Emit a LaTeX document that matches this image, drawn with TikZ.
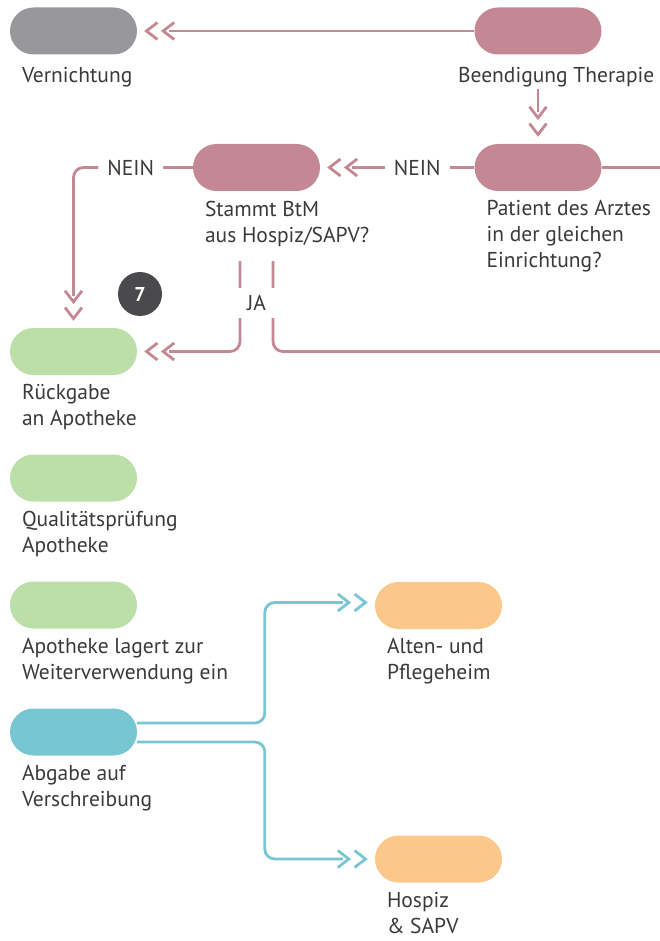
\documentclass[tikz,border=0pt]{standalone}
\usepackage{fontspec}
\setmainfont{PT Sans}
\usetikzlibrary{arrows.meta,decorations.markings}
\definecolor{rose}{HTML}{C48794}
\definecolor{ash}{HTML}{98989C}
\definecolor{mint}{HTML}{BCDEA9}
\definecolor{aqua}{HTML}{79C6D3}
\definecolor{apricot}{HTML}{FBC78B}
\definecolor{slate}{HTML}{4A4A4C}
\definecolor{ink}{HTML}{3A3A3A}

\begin{document}
\begin{tikzpicture}[
  x=1pt, y=-1pt,
  every node/.style = {font=\fontsize{21.5}{26}\selectfont, text=ink},
  Pill/.style = {rectangle, rounded corners=23.5pt, minimum width=127pt, minimum height=47pt, inner sep=0pt},
  Caption/.style = {align=left, inner sep=0pt, anchor=north west, execute at begin node=\strut}
  ]
  \useasboundingbox (0,0) rectangle (660,941);

  \node[Pill, fill=ash] (vern) at (73.5,31) {};
  \node[Pill, fill=rose] (ende) at (538,31) {};
  \node[Pill, fill=rose] (arzt) at (538,167.5) {};
  \node[Pill, fill=rose] (btm) at (256.5,167.5) {};
  \node[Pill, fill=mint] (rueck) at (73.5,351.5) {};
  \node[Pill, fill=mint] (qual) at (73.5,478) {};
  \node[Pill, fill=mint] (lager) at (73.5,605) {};
  \node[Pill, fill=aqua] (abgabe) at (73.5,732) {};
  \node[Pill, fill=apricot] (heim) at (438.5,605.5) {};
  \node[Pill, fill=apricot] (hospiz) at (438.5,859) {};

  \node[Caption] (vernT) at ([xshift=12pt,yshift=-9.3pt]vern.south west) {Vernichtung};
  \node[Caption] (endeT) at ([xshift=-16.5pt,yshift=-9.3pt]ende.south west) {Beendigung Therapie};
  \node[Caption] (arztT) at ([xshift=12pt,yshift=-9.3pt]arzt.south west) {Patient des Arztes\\in der gleichen\\Einrichtung?};
  \node[Caption] (btmT) at ([xshift=12pt,yshift=-9.3pt]btm.south west) {Stammt BtM\\aus Hospiz/SAPV?};
  \node[Caption] (rueckT) at ([xshift=12pt,yshift=-9.3pt]rueck.south west) {Rückgabe\\an Apotheke};
  \node[Caption] (qualT) at ([xshift=12pt,yshift=-9.3pt]qual.south west) {Qualitätsprüfung\\Apotheke};
  \node[Caption] (lagerT) at ([xshift=12pt,yshift=-9.3pt]lager.south west) {Apotheke lagert zur\\Weiterverwendung ein};
  \node[Caption] (abgabeT) at ([xshift=12pt,yshift=-9.3pt]abgabe.south west) {Abgabe auf\\Verschreibung};
  \node[Caption] (heimT) at ([xshift=12pt,yshift=-9.3pt]heim.south west) {Alten- und\\Pflegeheim};
  \node[Caption] (hospizT) at ([xshift=12pt,yshift=-9.3pt]hospiz.south west) {Hospiz\\\& SAPV};

  \node[circle, fill=slate, minimum size=44pt, inner sep=0pt, text=white, font=\fontsize{20}{22}\selectfont\bfseries] (seven) at (140,294) {7};

  \tikzset{EdgePink/.style = {draw=rose, line width=2.8pt}}
  \tikzset{EdgeTeal/.style = {draw=aqua, line width=2.8pt}}
  \tikzset{Chevrons/.style = {shorten >=32pt, decoration={markings, mark=at position -7pt with
    {\arrow{Straight Barb[length=11pt,width=17pt,sep=2pt]Straight Barb[length=11pt,width=17pt]}}}, postaction={decorate}}}
  \tikzset{LabelStyle/.style = {fill=white, inner xsep=9pt, inner ysep=4pt}}

  \coordinate (arztR) at (660,167.5);
  \coordinate (jaL) at ([xshift=-16.5pt,yshift=-70pt]btm.south);
  \coordinate (jaR) at ([xshift=16.5pt,yshift=-70pt]btm.south);
  \coordinate (jaEnd) at (660,351.5);

  \draw[EdgePink, Chevrons] (ende.west) -- (vern.east);
  \draw[EdgePink, Chevrons] ([yshift=-34.5pt]ende.south) -- (arzt.north);
  \draw[EdgePink] (arzt.east) -- (arztR);
  \draw[EdgePink, Chevrons] (arzt.west) -- node[LabelStyle, pos=.37] {NEIN} (btm.east);
  \draw[EdgePink, Chevrons, rounded corners=10pt] (btm.west) -| node[LabelStyle, pos=.26] {NEIN} (rueck.north);
  \draw[EdgePink, Chevrons, rounded corners=10pt] (jaL) |- (rueck.east);
  \draw[EdgePink, rounded corners=10pt] (jaR) |- (jaEnd);
  \node[fill=white, minimum width=50pt, minimum height=30pt] (ja) at (256.5,303) {JA};

  \draw[EdgeTeal, Chevrons, rounded corners=10pt] ([yshift=9pt]abgabe.east) -| ([xshift=-110pt,yshift=3pt]heim.west) -- ([yshift=3pt]heim.west);
  \draw[EdgeTeal, Chevrons, rounded corners=10pt] ([yshift=-10pt]abgabe.east) -| ([xshift=-110pt]hospiz.west) -- (hospiz.west);
\end{tikzpicture}
\end{document}
